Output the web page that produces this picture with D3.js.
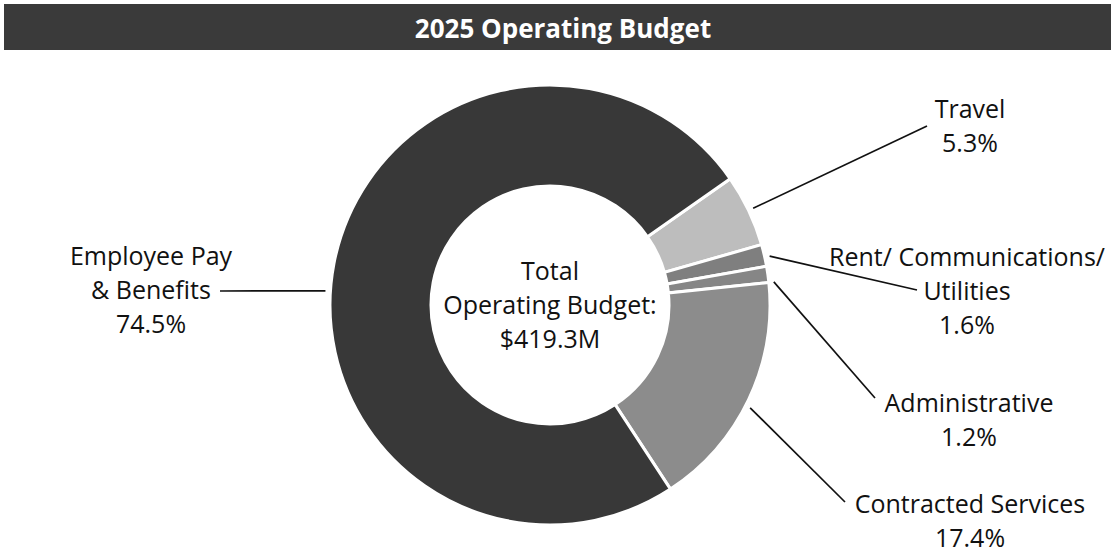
<!DOCTYPE html>
<html>
<head>
<meta charset="utf-8">
<script src="https://cdn.jsdelivr.net/npm/d3@7"></script>
<style>
  body { margin: 0; background: #fff; }
  svg { display: block; font-family: "Open Sans", sans-serif; }
</style>
</head>
<body>
<div id="chart"></div>
<script>
const title = "2025 Operating Budget";
const categories = ["Travel", "Rent/ Communications/ Utilities", "Administrative", "Contracted Services", "Employee Pay & Benefits"];
const shares = [5.3, 1.6, 1.2, 17.4, 74.5];
const labelLines = [["Travel"], ["Rent/ Communications/", "Utilities"], ["Administrative"], ["Contracted Services"], ["Employee Pay", "& Benefits"]];
const centerLines = ["Total", "Operating Budget:", "$419.3M"];
const fills = ["#bdbdbd", "#7f7f7f", "#868686", "#8c8c8c", "#383838"];

const width = 1111;
const height = 555;
const cx = 550, cy = 305;
const outerR = 220, innerR = 119;
const lineH = 34;

// where each label sits and where its leader line ends
const layout = [
    { x: 970, y: 118, ex: 927, ey: 126, nudge: 0 },
    { x: 967, y: 266, ex: 917, ey: 290, nudge: 0.5 },
    { x: 969, y: 412, ex: 875, ey: 398, nudge: 2.1 },
    { x: 970, y: 513, ex: 845, ey: 502, nudge: 1.7 },
    { x: 151, y: 265, ex: 220, ey: 291, nudge: -7.3 }
];

const svg = d3.select("#chart")
    .append("svg")
    .attr("width", width)
    .attr("height", height);

// title bar
svg.append("rect")
    .attr("x", 4)
    .attr("y", 4)
    .attr("width", width - 4)
    .attr("height", 46)
    .attr("fill", "#3a3a3a");

svg.append("text")
    .attr("x", 563)
    .attr("y", 38)
    .attr("text-anchor", "middle")
    .attr("fill", "#fff")
    .attr("font-weight", 700)
    .attr("font-size", "26px")
    .text(title);

const rad = d => d * Math.PI / 180;

const pie = d3.pie()
    .sort(null)
    .value(d => d)
    .startAngle(rad(55))
    .endAngle(rad(55 + 360));

const arcs = pie(shares);

const arc = d3.arc()
    .innerRadius(innerR)
    .outerRadius(outerR);

const g = svg.append("g")
    .attr("transform", `translate(${cx},${cy})`);

g.selectAll("path.slice")
    .data(arcs)
    .enter().append("path")
    .attr("class", "slice")
    .attr("d", arc)
    .attr("fill", (d, i) => fills[i])
    .attr("stroke", "#fff")
    .attr("stroke-width", 3);

// leader lines
svg.selectAll("line.leader")
    .data(arcs)
    .enter().append("line")
    .attr("class", "leader")
    .attr("x1", (d, i) => cx + 225 * Math.sin((d.startAngle + d.endAngle) / 2 + rad(layout[i].nudge)))
    .attr("y1", (d, i) => cy - 225 * Math.cos((d.startAngle + d.endAngle) / 2 + rad(layout[i].nudge)))
    .attr("x2", (d, i) => layout[i].ex)
    .attr("y2", (d, i) => layout[i].ey)
    .attr("stroke", "#111")
    .attr("stroke-width", 1.7);

// labels
const labels = svg.selectAll("text.label")
    .data(categories)
    .enter().append("text")
    .attr("class", "label")
    .attr("text-anchor", "middle")
    .attr("font-size", "25px")
    .attr("fill", "#111");

labels.each(function(c, i) {
    const lines = labelLines[i].concat([shares[i].toFixed(1) + "%"]);
    d3.select(this).selectAll("tspan")
        .data(lines)
        .enter().append("tspan")
        .attr("x", layout[i].x)
        .attr("y", (t, j) => layout[i].y + j * lineH)
        .text(t => t);
});

// center text
svg.append("text")
    .attr("text-anchor", "middle")
    .attr("font-size", "25px")
    .attr("fill", "#111")
    .selectAll("tspan")
    .data(centerLines)
    .enter().append("tspan")
    .attr("x", cx)
    .attr("y", (t, j) => 280 + j * lineH)
    .text(t => t);
</script>
</body>
</html>
